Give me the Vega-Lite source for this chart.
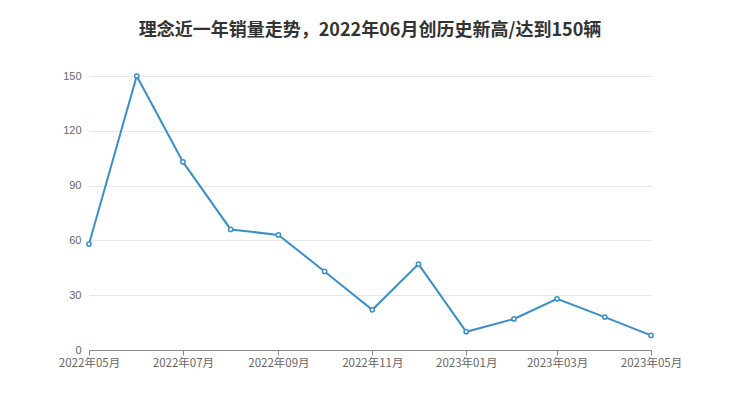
{
  "$schema": "https://vega.github.io/schema/vega-lite/v6.json",
  "width": 562,
  "height": 274,
  "autosize": "none",
  "padding": {"left": 89, "top": 76, "right": 89, "bottom": 67},
  "background": "white",
  "title": {
    "text": "理念近一年销量走势，2022年06月创历史新高/达到150辆",
    "anchor": "middle",
    "font": "Noto Sans CJK SC",
    "fontSize": 18,
    "fontWeight": "bold",
    "color": "#333333",
    "offset": 30
  },
  "config": {
    "view": {"stroke": null},
    "axis": {"labelFont": "Liberation Sans", "labelColor": "#666666", "labelFontSize": 11}
  },
  "data": {
    "values": [
      {"month": "2022-05-01", "sales": 58},
      {"month": "2022-06-01", "sales": 150},
      {"month": "2022-07-01", "sales": 103},
      {"month": "2022-08-01", "sales": 66},
      {"month": "2022-09-01", "sales": 63},
      {"month": "2022-10-01", "sales": 43},
      {"month": "2022-11-01", "sales": 22},
      {"month": "2022-12-01", "sales": 47},
      {"month": "2023-01-01", "sales": 10},
      {"month": "2023-02-01", "sales": 17},
      {"month": "2023-03-01", "sales": 28},
      {"month": "2023-04-01", "sales": 18},
      {"month": "2023-05-01", "sales": 8}
    ]
  },
  "encoding": {
    "x": {
      "field": "month",
      "type": "temporal",
      "timeUnit": "yearmonth",
      "scale": {"nice": false},
      "axis": {
        "title": null,
        "format": "%Y年%m月",
        "labelFont": "Noto Sans CJK SC",
        "labelFontSize": 11.5,
        "values": ["2022-05-01", "2022-07-01", "2022-09-01", "2022-11-01", "2023-01-01", "2023-03-01", "2023-05-01"],
        "grid": false,
        "domainColor": "#888888",
        "tickColor": "#888888",
        "tickSize": 5,
        "labelPadding": 2,
        "labelFlush": false
      }
    },
    "y": {
      "field": "sales",
      "type": "quantitative",
      "scale": {"domain": [0, 150], "nice": false},
      "axis": {
        "title": null,
        "values": [0, 30, 60, 90, 120, 150],
        "domain": false,
        "ticks": false,
        "gridColor": "#e6e6e6",
        "labelPadding": 8
      }
    }
  },
  "layer": [
    {"mark": {"type": "line", "color": "#3a8fc8", "strokeWidth": 2}},
    {"mark": {"type": "point", "shape": "circle", "filled": true, "fill": "white", "stroke": "#3a8fc8", "strokeWidth": 1.5, "size": 18, "opacity": 1}}
  ]
}
